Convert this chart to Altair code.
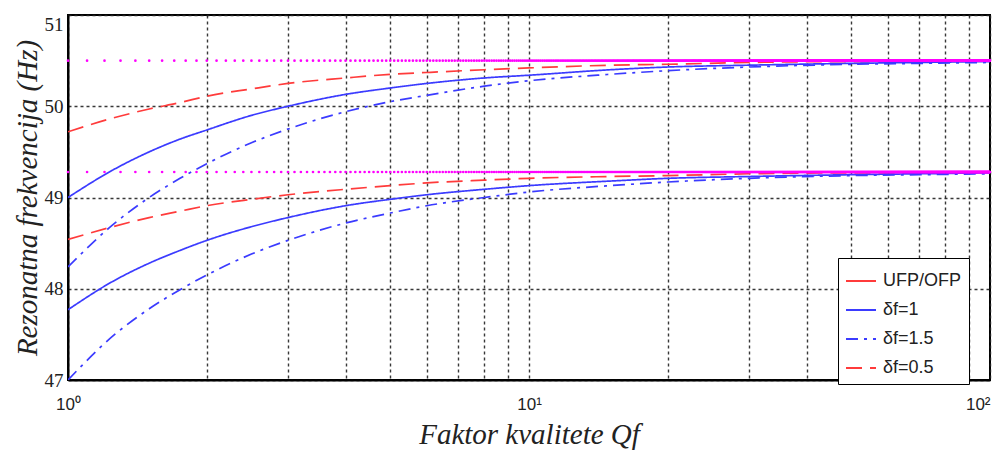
import altair as alt
import numpy as np
import pandas as pd

# Q values (log axis)
Q = [1, 1.25, 1.5, 1.75, 2, 2.5, 3, 4, 5, 6, 8, 10, 15, 20, 30, 50, 70, 100]

# upper group (converges to 50.5 Hz)
up_05 = [49.72, 49.87, 49.97, 50.04, 50.11, 50.19, 50.25, 50.31, 50.35, 50.37, 50.40, 50.42, 50.45, 50.46, 50.48, 50.49, 50.49, 50.50]
up_10 = [49.00, 49.30, 49.50, 49.64, 49.74, 49.90, 50.00, 50.13, 50.20, 50.25, 50.31, 50.34, 50.40, 50.43, 50.45, 50.47, 50.48, 50.49]
up_15 = [48.24, 48.70, 49.00, 49.21, 49.37, 49.60, 49.75, 49.94, 50.05, 50.12, 50.22, 50.28, 50.35, 50.39, 50.43, 50.46, 50.47, 50.48]

# lower group (converges to 49.28 Hz)
lo_05 = [48.54, 48.68, 48.78, 48.85, 48.91, 48.98, 49.03, 49.09, 49.13, 49.16, 49.19, 49.21, 49.23, 49.24, 49.26, 49.27, 49.27, 49.28]
lo_10 = [47.77, 48.08, 48.28, 48.42, 48.53, 48.68, 48.78, 48.91, 48.98, 49.03, 49.09, 49.13, 49.18, 49.21, 49.23, 49.25, 49.26, 49.27]
lo_15 = [47.00, 47.48, 47.78, 47.99, 48.15, 48.38, 48.53, 48.72, 48.83, 48.91, 49.00, 49.06, 49.13, 49.17, 49.21, 49.24, 49.25, 49.26]

# UFP / OFP limits
limits = [50.5, 49.28]
limit_q = list(np.round(np.arange(1.0, 100.05, 0.1), 1))

series_names = ["UFP/OFP", "δf=1", "δf=1.5", "δf=0.5"]
series_colors = ["#ff3b3b", "#3b3bff", "#3b3bff", "#ff3b3b"]
series_dash = [[1, 0], [1, 0], [12, 6, 3, 6], [16, 8]]

x_grid = [1, 2, 3, 4, 5, 6, 7, 8, 9, 10, 20, 30, 40, 50, 60, 70, 80, 90, 100]
y_ticks = [47, 48, 49, 50, 51]

rows = []
for grp, sets in [("up", [("δf=0.5", up_05), ("δf=1", up_10), ("δf=1.5", up_15)]),
                  ("lo", [("δf=0.5", lo_05), ("δf=1", lo_10), ("δf=1.5", lo_15)])]:
    for name, vals in sets:
        for q, v in zip(Q, vals):
            rows.append({"Q": q, "f": v, "series": name, "curve": grp + name})
df = pd.DataFrame(rows)

lim_rows = []
for i, lv in enumerate(limits):
    for q in limit_q:
        lim_rows.append({"Q": q, "f": lv, "grp": i})
dlim = pd.DataFrame(lim_rows)

xscale = alt.Scale(type="log", domain=[1, 100], nice=False)
yscale = alt.Scale(domain=[47, 51], nice=False)

xaxis = alt.Axis(
    values=x_grid,
    labelExpr="datum.value == 1 ? '10⁰' : datum.value == 10 ? '10¹' : datum.value == 100 ? '10²' : ''",
    labelAlign=alt.condition("datum.value == 100", alt.value("right"), alt.value("center")),
    title="Faktor kvalitete Qf",
    grid=True, ticks=False, labelFlush=False, labelOverlap=False,
)
yaxis = alt.Axis(
    values=y_ticks, title="Rezonatna frekvencija (Hz)", grid=True, ticks=False,
    format="d", labelFlush=False,
    labelBaseline=alt.condition("datum.value == 51", alt.value("top"), alt.value("middle")),
)

leg = alt.Legend(title=None, orient="none", legendX=770, legendY=243,
                 symbolType="stroke", symbolSize=900, symbolStrokeWidth=2,
                 labelFontSize=18, labelFont="Liberation Sans",
                 labelColor="#222", labelFontWeight="normal",
                 rowPadding=4, padding=7, labelOffset=6,
                 strokeColor="black", fillColor="white")

lines = alt.Chart(df).mark_line(strokeWidth=1.7, clip=True, interpolate="monotone").encode(
    x=alt.X("Q:Q", scale=xscale, axis=xaxis),
    y=alt.Y("f:Q", scale=yscale, axis=yaxis),
    color=alt.Color("series:N", scale=alt.Scale(domain=series_names, range=series_colors), legend=leg),
    strokeDash=alt.StrokeDash("series:N", scale=alt.Scale(domain=series_names, range=series_dash), legend=leg),
    detail="curve:N",
)

dots = alt.Chart(dlim).mark_circle(size=7, color="#ff00ff", opacity=1).encode(
    x=alt.X("Q:Q", scale=xscale),
    y=alt.Y("f:Q", scale=yscale),
)

chart = alt.layer(lines, dots).properties(
    width=922, height=365,
    autosize=alt.AutoSizeParams(type="none"),
    padding={"left": 60, "top": 7, "right": 5, "bottom": 70},
).configure_view(stroke="black", strokeWidth=2).configure_axis(
    domainColor="black", domainWidth=2,
    gridColor="#222", gridDash=[3, 3], gridWidth=1.4, gridOpacity=0.9,
    labelColor="#222", titleColor="#222",
    titleFont="Liberation Serif", titleFontStyle="italic", titleFontWeight="normal",
).configure_axisX(
    labelFont="Liberation Sans", labelFontSize=17, labelPadding=16,
    titleFontSize=29, titlePadding=8,
).configure_axisY(
    labelFont="Liberation Serif", labelFontSize=19, labelPadding=5,
    titleFontSize=29, titlePadding=2,
)

chart.save("out.html", embed_options={"renderer": "svg", "actions": False})
